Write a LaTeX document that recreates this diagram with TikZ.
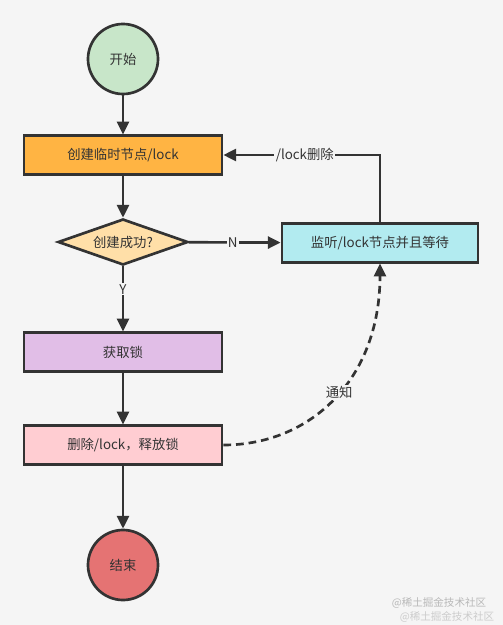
\documentclass[tikz,border=0pt]{standalone}
\usepackage{fontspec}
\setmainfont{Noto Sans CJK SC}
\usetikzlibrary{positioning, arrows.meta, shapes.geometric, calc}
\definecolor{cBg}{HTML}{F5F5F5}
\definecolor{cLine}{HTML}{333333}
\definecolor{cStart}{HTML}{C8E6C9}
\definecolor{cCreate}{HTML}{FFB443}
\definecolor{cCheck}{HTML}{FFDFA8}
\definecolor{cWatch}{HTML}{B2EBF0}
\definecolor{cAcquire}{HTML}{E1BEE7}
\definecolor{cRelease}{HTML}{FFCDD2}
\definecolor{cEnd}{HTML}{E57373}

\begin{document}
\begin{tikzpicture}[
  x=0.025cm, y=-0.025cm,
  font=\fontsize{9.5}{11}\selectfont,
  >={Triangle[length=0.32cm, width=0.3cm]},
  stepbox/.style={draw=cLine, line width=1.9pt, text=cLine,
                  minimum width=4.95cm, minimum height=0.96cm, inner sep=2pt},
  terminal/.style={circle, draw=cLine, line width=1.9pt, text=cLine,
                   minimum size=1.75cm, inner sep=0pt},
  flow/.style={->, draw=cLine, line width=1.9pt},
  tag/.style={fill=cBg, text=cLine, inner sep=1pt},
]

% ---- canvas ------------------------------------------------------------
\fill[cBg] (0,0) rectangle (503,625);
\useasboundingbox (0,0) rectangle (503,625);

% ---- main column ---------------------------------------------------------
\node[terminal, fill=cStart] (start) at (123,59) {开始};

\node[stepbox, fill=cCreate] (create) at (123,155) {创建临时节点/lock};

\node[diamond, aspect=2.8, draw=cLine, line width=1.9pt, fill=cCheck,
      text=cLine, inner sep=0pt, minimum width=3.25cm, minimum height=1.15cm]
      (check) at (123,242) {创建成功?};

\node[stepbox, fill=cAcquire] (acquire) at (123,352) {获取锁};

\node[stepbox, fill=cRelease] (release) at (123,445) {删除/lock，释放锁};

\node[terminal, fill=cEnd] (finish) at (123,565) {结束};

% ---- waiting branch ------------------------------------------------------
\node[stepbox, fill=cWatch, minimum width=4.9cm] (watch) at (380,243)
  {监听/lock节点并且等待};

% ---- connectors ----------------------------------------------------------
\draw[flow] (start) -- (create);
\draw[flow] (create) -- (check);
\draw[flow] (check) -- (acquire) node[tag, pos=0.35] {Y};
\draw[flow] (acquire) -- (release);
\draw[flow] (release) -- (finish);
\draw[flow] (check) -- (watch) node[tag, pos=0.48] {N};
\draw[flow] (watch.north) |- (create.east) node[tag, pos=0.74] {/lock删除};

% notify: dashed curve back up to the waiting box
\draw[flow, dash pattern=on 5.5pt off 3.5pt]
  (release.east) .. controls (310,445) and (380,380) .. (watch.south)
  node[tag, pos=0.53] {通知};

% ---- watermark -----------------------------------------------------------
\node[font=\fontsize{7.5}{9}\selectfont, text=black!28, inner sep=0pt]
  (mark1) at (439,603) {@稀土掘金技术社区};
\node[font=\fontsize{7.5}{9}\selectfont, text=black!20, inner sep=0pt]
  (mark2) at (447,617) {@稀土掘金技术社区};

\end{tikzpicture}
\end{document}
